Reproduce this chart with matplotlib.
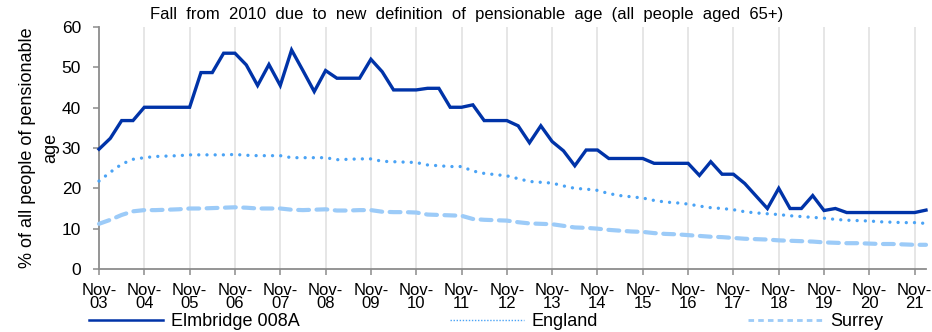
import matplotlib
matplotlib.use("Agg")
import matplotlib.pyplot as plt
from matplotlib.lines import Line2D
import numpy as np

plt.rcParams['font.family'] = ['Liberation Sans', 'DejaVu Sans']

# Quarterly observations, Nov-03 through Feb-22
years = ["03", "04", "05", "06", "07", "08", "09", "10", "11",
         "12", "13", "14", "15", "16", "17", "18", "19", "20", "21"]
tick_labels = ["Nov-\n" + y for y in years]

elmbridge = [29.7, 32.4, 36.8, 36.8, 40.1, 40.1, 40.1, 40.1, 40.1, 48.7,
             48.7, 53.5, 53.5, 50.6, 45.5, 50.7, 45.5, 54.3, 49.2, 44.0,
             49.2, 47.3, 47.3, 47.3, 52.0, 48.9, 44.4, 44.4, 44.4, 44.8,
             44.8, 40.1, 40.1, 40.7, 36.8, 36.8, 36.8, 35.5, 31.3, 35.5,
             31.6, 29.3, 25.6, 29.5, 29.5, 27.4, 27.4, 27.4, 27.4, 26.2,
             26.2, 26.2, 26.2, 23.2, 26.6, 23.5, 23.5, 21.2, 18.1, 15.0,
             20.0, 15.0, 15.0, 18.2, 14.5, 15.0, 14.0, 14.0, 14.0, 14.0,
             14.0, 14.0, 14.0, 14.6]

england = [21.8, 24.0, 26.0, 27.2, 27.6, 27.9, 28.0, 28.1, 28.3, 28.3,
           28.3, 28.3, 28.4, 28.2, 28.1, 28.1, 28.1, 27.6, 27.6, 27.6,
           27.6, 27.1, 27.2, 27.3, 27.3, 26.7, 26.6, 26.5, 26.4, 25.8,
           25.6, 25.4, 25.4, 24.3, 23.7, 23.4, 23.1, 22.4, 21.7, 21.5,
           21.3, 20.6, 20.0, 19.8, 19.5, 18.7, 18.2, 17.9, 17.6, 17.0,
           16.6, 16.4, 16.1, 15.6, 15.2, 15.0, 14.7, 14.2, 13.9, 13.7,
           13.5, 13.2, 13.0, 12.8, 12.6, 12.3, 12.1, 12.0, 11.9, 11.7,
           11.6, 11.5, 11.5, 11.3]

surrey = [11.2, 12.2, 13.4, 14.3, 14.6, 14.6, 14.7, 14.8, 15.0, 15.0,
          15.1, 15.2, 15.3, 15.2, 15.0, 15.0, 15.0, 14.7, 14.6, 14.7,
          14.8, 14.5, 14.5, 14.6, 14.6, 14.2, 14.1, 14.1, 14.0, 13.5,
          13.4, 13.3, 13.2, 12.4, 12.2, 12.1, 12.0, 11.6, 11.3, 11.2,
          11.1, 10.7, 10.3, 10.2, 10.0, 9.7, 9.5, 9.3, 9.2, 8.9,
          8.7, 8.6, 8.4, 8.2, 8.0, 7.9, 7.7, 7.5, 7.4, 7.3,
          7.1, 7.0, 6.9, 6.8, 6.6, 6.5, 6.4, 6.4, 6.3, 6.2,
          6.2, 6.1, 6.0, 6.0]

series_names = ["Elmbridge 008A", "England", "Surrey"]
c_elm, c_eng, c_sur = "#0033a8", "#4aa3f5", "#9ccbf8"
axis_grey = "#8c8c8c"

x = np.arange(len(elmbridge))
tick_pos = np.arange(0, 4 * len(years), 4)

fig = plt.figure(figsize=(9.32, 3.32), dpi=100)
ax = fig.add_axes([99 / 932, 63 / 332, 827 / 932, 242 / 332])

ax.plot(x, surrey, color=c_sur, lw=3.0, linestyle=(0, (2.6, 1.8)),
        dash_capstyle="round", clip_on=False, zorder=3)
ax.plot(x, england, color=c_eng, lw=2.4, linestyle=(0, (0.01, 2.45)),
        dash_capstyle="round", clip_on=False, zorder=4)
ax.plot(x, elmbridge, color=c_elm, lw=2.4, solid_joinstyle="miter",
        clip_on=False, zorder=5)

ax.set_xlim(0, len(elmbridge) - 1)
ax.set_ylim(0, 60)
ax.set_yticks(np.arange(0, 61, 10))
ax.set_xticks(tick_pos)
ax.set_xticklabels(tick_labels, linespacing=0.88)

for xv in tick_pos[1:]:
    ax.axvline(xv, color="#e4e4e4", lw=1.3, zorder=1)

for side in ("top", "right"):
    ax.spines[side].set_visible(False)
for side in ("left", "bottom"):
    ax.spines[side].set_color(axis_grey)
    ax.spines[side].set_linewidth(1.3)

ax.tick_params(axis="y", direction="out", length=4, width=1.1,
               color=axis_grey, labelsize=12.5, pad=9)
ax.tick_params(axis="x", direction="out", length=4, width=1.1,
               color=axis_grey, labelsize=12, pad=6)

ax.set_ylabel("% of all people of pensionable\nage", fontsize=13,
              linespacing=1.45, labelpad=2)

fig.text(0.5 * (152 + 782) / 932, 1 - 15 / 332,
         "Fall  from  2010  due  to  new  definition  of  pensionable  age  (all  people  aged  65+)",
         ha="center", va="center", fontsize=12)

handles = [
    Line2D([], [], color=c_elm, lw=1.8),
    Line2D([], [], color=c_eng, lw=1.0, linestyle=(0, (1, 1.2))),
    Line2D([], [], color=c_sur, lw=2.0, linestyle=(0, (2, 1.5))),
]
fig.legend(handles, series_names, loc="center left",
           bbox_to_anchor=(89 / 932, 1 - 322 / 332), ncol=3, frameon=False,
           fontsize=13, handlelength=4.1, handletextpad=0.45,
           columnspacing=8.3, borderaxespad=0, borderpad=0)

fig.savefig("out.png", dpi=100)
